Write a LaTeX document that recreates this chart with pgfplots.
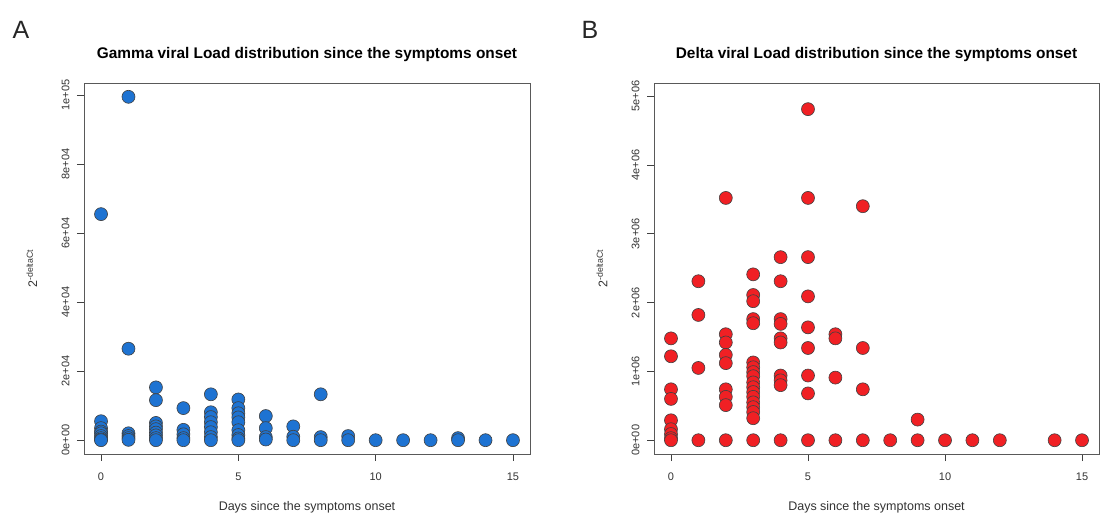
\documentclass[border=0pt]{standalone}
\usepackage{pgfplots}
\pgfplotsset{compat=1.18}
\usepackage{fontspec}
\setmainfont{Liberation Sans}
\definecolor{gblue}{RGB}{30,115,210}
\definecolor{dred}{RGB}{240,32,36}
\pgfplotsset{
  rstyle/.style={
    scale only axis,
    width=446bp, height=371bp,
    anchor=south west,
    xmin=-0.62, xmax=15.62,
    axis line style={black!65, line width=0.8bp},
    tick style={black!75, line width=0.8bp},
    tick align=outside,
    major tick length=7bp,
    xtick pos=bottom, ytick pos=left,
    xtick={0,5,10,15}, xticklabels={0,5,10,15},
    scaled x ticks=false, scaled y ticks=false,
    tick label style={font=\fontsize{11bp}{13bp}\selectfont, text=black!80},
    yticklabel style={rotate=90, anchor=south},
    yticklabel shift=4bp,
    xticklabel shift=8bp,
    every axis x label/.style={at={(axis description cs:0.5,-0.143)}, anchor=center, font=\fontsize{12.5bp}{14bp}\selectfont, text=black!80},
    every axis y label/.style={at={(axis description cs:-0.117,0.5)}, rotate=90, anchor=center, font=\fontsize{12.5bp}{14bp}\selectfont, text=black!80},
    every axis title/.style={at={(axis description cs:0.5,1.078)}, anchor=center, font=\bfseries\fontsize{15.4bp}{17bp}\selectfont},
    xlabel={Days since the symptoms onset},
    ylabel={2\textsuperscript{-deltaCt}},
    only marks,
  }
}
\begin{document}
\begin{tikzpicture}
\path[use as bounding box] (0,0) rectangle (1100bp,516bp);
\node[font=\fontsize{25bp}{28bp}\selectfont, anchor=center, text=black!85] at (21bp,486bp) {A};
\node[font=\fontsize{25bp}{28bp}\selectfont, anchor=center, text=black!85] at (590bp,486bp) {B};
\begin{axis}[rstyle, at={(84bp,62bp)},
  ymin=-4000, ymax=103500,
  ytick={0,20000,40000,60000,80000,100000},
  yticklabels={0e+00,2e+04,4e+04,6e+04,8e+04,1e+05},
  title={Gamma viral Load distribution since the symptoms onset}]
\addplot[mark=*, mark size=6.5bp, mark options={draw=black!75, fill=gblue, line width=0.6bp}] coordinates {
(0,65500) (0,5500) (0,3500) (0,2500) (0,2000) (0,1200) (0,600) (0,200) (0,0)
(1,99500) (1,26500) (1,2000) (1,1200) (1,600) (1,100)
(2,15300) (2,11600) (2,5000) (2,4000) (2,3200) (2,2200) (2,1400) (2,600) (2,0)
(3,9300) (3,3000) (3,1700) (3,600) (3,0)
(4,13300) (4,8100) (4,6700) (4,5200) (4,3800) (4,2300) (4,900) (4,0)
(5,11800) (5,9300) (5,7800) (5,6600) (5,5200) (5,2900) (5,1500) (5,500) (5,0)
(6,7000) (6,3500) (6,900) (6,200)
(7,4000) (7,1000) (7,0)
(8,13300) (8,900) (8,0)
(9,1200) (9,0)
(10,0) (11,0) (12,0) (13,600) (13,0) (14,0) (15,0)
};
\end{axis}
\begin{axis}[rstyle, at={(654bp,62bp)}, width=445bp,
  ymin=-200000, ymax=5190000,
  ytick={0,1000000,2000000,3000000,4000000,5000000},
  yticklabels={0e+00,1e+06,2e+06,3e+06,4e+06,5e+06},
  title={Delta viral Load distribution since the symptoms onset}]
\addplot[mark=*, mark size=6.5bp, mark options={draw=black!75, fill=dred, line width=0.6bp}] coordinates {
(0,1480000) (0,1220000) (0,740000) (0,600000) (0,290000) (0,160000) (0,90000) (0,30000) (0,0)
(1,2310000) (1,1820000) (1,1050000) (1,0)
(2,3520000) (2,1540000) (2,1420000) (2,1240000) (2,1120000) (2,740000) (2,630000) (2,510000) (2,0)
(3,2410000) (3,2110000) (3,2020000) (3,1760000) (3,1700000) (3,1130000) (3,1060000) (3,990000) (3,930000) (3,840000) (3,770000) (3,700000) (3,630000) (3,550000) (3,480000) (3,410000) (3,320000) (3,0)
(4,2660000) (4,2310000) (4,1760000) (4,1690000) (4,1480000) (4,1420000) (4,940000) (4,870000) (4,800000) (4,0)
(5,4810000) (5,3520000) (5,2660000) (5,2090000) (5,1640000) (5,1340000) (5,940000) (5,680000) (5,0)
(6,1540000) (6,1480000) (6,910000) (6,0)
(7,3400000) (7,1340000) (7,740000) (7,0)
(8,0) (9,300000) (9,0)
(10,0) (11,0) (12,0) (14,0) (15,0)
};
\end{axis}
\end{tikzpicture}
\end{document}
